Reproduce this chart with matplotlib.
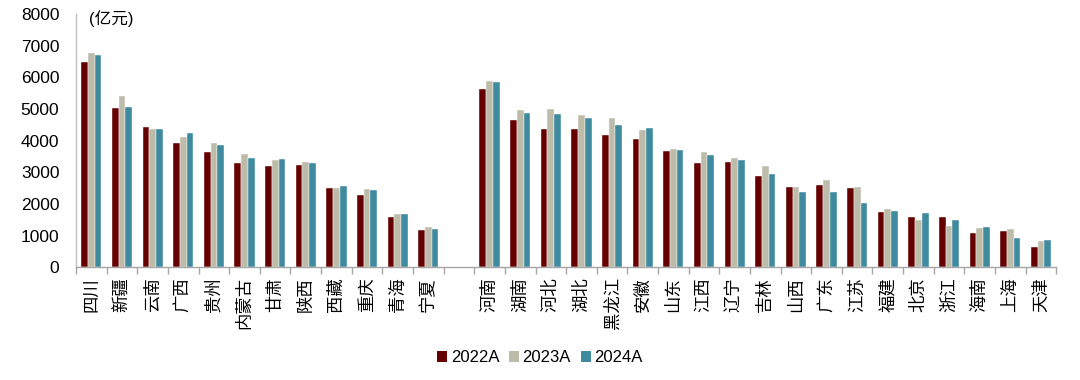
import matplotlib
matplotlib.use('Agg')
import matplotlib.pyplot as plt
from matplotlib.patches import Patch
import numpy as np

plt.rcParams['font.family'] = ['Liberation Sans', 'Noto Sans CJK SC']

# 西部 + 其他省份, 中间空一格
west = ['四川', '新疆', '云南', '广西', '贵州', '内蒙古', '甘肃', '陕西', '西藏', '重庆', '青海', '宁夏']
east = ['河南', '湖南', '河北', '湖北', '黑龙江', '安徽', '山东', '江西', '辽宁', '吉林', '山西',
        '广东', '江苏', '福建', '北京', '浙江', '海南', '上海', '天津']

west_2022 = [6480, 5030, 4440, 3930, 3650, 3280, 3190, 3240, 2490, 2290, 1600, 1170]
west_2023 = [6760, 5420, 4370, 4110, 3910, 3590, 3390, 3330, 2510, 2480, 1680, 1260]
west_2024 = [6700, 5050, 4380, 4240, 3860, 3450, 3420, 3290, 2560, 2450, 1690, 1190]

east_2022 = [5620, 4660, 4370, 4370, 4190, 4060, 3680, 3280, 3320, 2890, 2530,
             2600, 2500, 1730, 1570, 1600, 1070, 1130, 640]
east_2023 = [5880, 4960, 5010, 4820, 4710, 4330, 3720, 3650, 3460, 3200, 2520,
             2770, 2530, 1830, 1500, 1300, 1240, 1190, 820]
east_2024 = [5840, 4870, 4840, 4700, 4480, 4390, 3690, 3550, 3380, 2930, 2390,
             2360, 2040, 1790, 1700, 1500, 1260, 930, 870]

series_names = ['2022A', '2023A', '2024A']
colors = ['#660000', '#BDBBAA', '#3E8A9F']

labels = west + [''] + east
values = [west_2022 + [0] + east_2022,
          west_2023 + [0] + east_2023,
          west_2024 + [0] + east_2024]

fig = plt.figure(figsize=(10.8, 3.8), dpi=100)
ax = fig.add_axes([0.0704, 0.297, 0.9076, 0.666])

x = np.arange(len(labels))
w = 0.22
for i, (vals, c) in enumerate(zip(values, colors)):
    ax.bar(x + (i - 1) * w, vals, width=w, color=c, edgecolor='white', linewidth=0.3)

ax.set_xlim(-0.5, len(labels) - 0.5)
ax.set_ylim(0, 8000)
ax.set_yticks(np.arange(0, 8001, 1000))
ax.tick_params(axis='y', length=0, labelsize=12.5, pad=12)

# 分类标签竖排, 刻度线画在分类边界
ax.set_xticks(x)
ax.set_xticklabels(labels, rotation=90, fontsize=12.5)
ax.tick_params(axis='x', which='major', length=0, pad=7)
ax.set_xticks(np.arange(-0.5, len(labels), 1), minor=True)
ax.tick_params(axis='x', which='minor', length=5, color='#A6A6A6', width=1, direction='out')

for s in ['top', 'right']:
    ax.spines[s].set_visible(False)
ax.spines['left'].set_color('#BFBFBF')
ax.spines['bottom'].set_color('#A6A6A6')
ax.spines['left'].set_linewidth(1)
ax.spines['bottom'].set_linewidth(1)

ax.text(0.013, 0.984, '(亿元)', transform=ax.transAxes, fontsize=12, va='center', ha='left')

handles = [Patch(facecolor=c, label=n) for c, n in zip(colors, series_names)]
fig.legend(handles=handles, loc='center', bbox_to_anchor=(0.5, 0.058), ncol=3, frameon=False,
           fontsize=12, handlelength=0.6, handleheight=0.6, handletextpad=0.2, columnspacing=0.6)

plt.savefig('out.png', dpi=100)
